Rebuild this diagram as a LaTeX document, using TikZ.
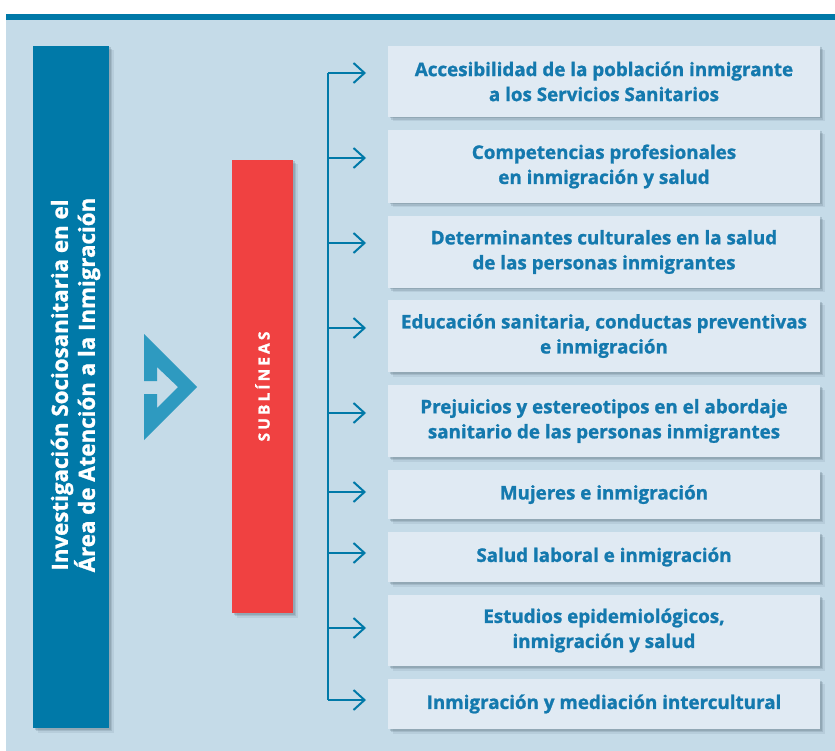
\documentclass[tikz,border=0pt]{standalone}
\usepackage{fontspec}
\setmainfont{Open Sans}
\usetikzlibrary{shadows,arrows.meta}
\definecolor{bgblue}{HTML}{C5DBE8}
\definecolor{darkblue}{HTML}{0079A8}
\definecolor{boxfill}{HTML}{E0EAF3}
\definecolor{redbox}{HTML}{F04141}
\definecolor{chevblue}{HTML}{2E9AC0}
\definecolor{textblue}{HTML}{1479AE}
\definecolor{shadowcol}{HTML}{5A7080}
\newcommand{\heavy}{\bfseries\addfontfeatures{FakeBold=1.2}}
\tikzset{
  softshadow/.style={
    drop shadow={shadow xshift=1.5pt,shadow yshift=-1.5pt,fill=shadowcol,opacity=.25},
    drop shadow={shadow xshift=3pt,shadow yshift=-3pt,fill=shadowcol,opacity=.2},
    drop shadow={shadow xshift=4.5pt,shadow yshift=-4.5pt,fill=shadowcol,opacity=.12}},
  rbox/.style={rectangle, fill=boxfill, softshadow, minimum width=432pt, inner sep=0pt,
    align=center, text=textblue, font=\heavy\fontsize{18.8}{25}\selectfont},
  conn/.style={draw=darkblue, line width=2pt, -{Straight Barb[length=11pt,width=20pt]}},
  spine/.style={draw=darkblue, line width=2pt}
}
\begin{document}
\begin{tikzpicture}[x=1pt,y=-1pt]
\useasboundingbox (0,0) rectangle (835,751);
\fill[bgblue] (6,20) rectangle (835,751);
\fill[darkblue] (6,14) rectangle (835,20);
% left box
\node[rectangle, fill=darkblue, softshadow, minimum width=76pt, minimum height=682pt,
  inner sep=0pt] (main) at (71,387) {};
\node[rotate=90, inner sep=0pt, align=center, text=white, font=\heavy\fontsize{22.3}{27}\selectfont]
  (maintext) at (75.5,385) {Investigación Sociosanitaria en el\\Área de Atención a la Inmigración};
% chevron
\fill[chevblue] (144,334) -- (197,387) -- (144,440) -- (144,394) -- (157,394) -- (157,408)
  -- (178,387) -- (157,367) -- (157,381) -- (144,381) -- cycle;
% red box
\node[rectangle, fill=redbox, softshadow, rotate=90, minimum width=453pt, minimum height=61pt,
  inner sep=0pt, text=white, font=\heavy\fontsize{15.5}{17}\selectfont\addfontfeatures{LetterSpace=20}]
  (sub) at (262.5,386.5) {SUBLÍNEAS};
% right boxes
\node[rbox, minimum height=71pt] (b1) at (604,81.5) {Accesibilidad de la población inmigrante\\a los Servicios Sanitarios};
\node[rbox, minimum height=73pt] (b2) at (604,166.5) {Competencias profesionales\\en inmigración y salud};
\node[rbox, minimum height=72pt] (b3) at (604,252) {Determinantes culturales en la salud\\de las personas inmigrantes};
\node[rbox, minimum height=72pt] (b4) at (604,336) {Educación sanitaria, conductas preventivas\\e inmigración};
\node[rbox, minimum height=72pt] (b5) at (604,421) {Prejuicios y estereotipos en el abordaje\\sanitario de las personas inmigrantes};
\node[rbox, minimum height=49pt] (b6) at (604,494.5) {Mujeres e inmigración};
\node[rbox, minimum height=50pt] (b7) at (604,557) {Salud laboral e inmigración};
\node[rbox, minimum height=71pt] (b8) at (604,630.5) {Estudios epidemiológicos,\\inmigración y salud};
\node[rbox, minimum height=50pt] (b9) at (604,704) {Inmigración y mediación intercultural};
% connectors
\foreach \i/\yy in {1/73,2/158,3/243,4/328,5/413,6/492,7/553,8/628,9/700}{
  \coordinate (s\i) at (328,\yy);
  \coordinate (t\i) at (366,\yy);
}
\draw[spine] (s1) -- (s9);
\foreach \i in {1,...,9}{\draw[conn] (s\i) -- (t\i);}
\end{tikzpicture}
\end{document}
